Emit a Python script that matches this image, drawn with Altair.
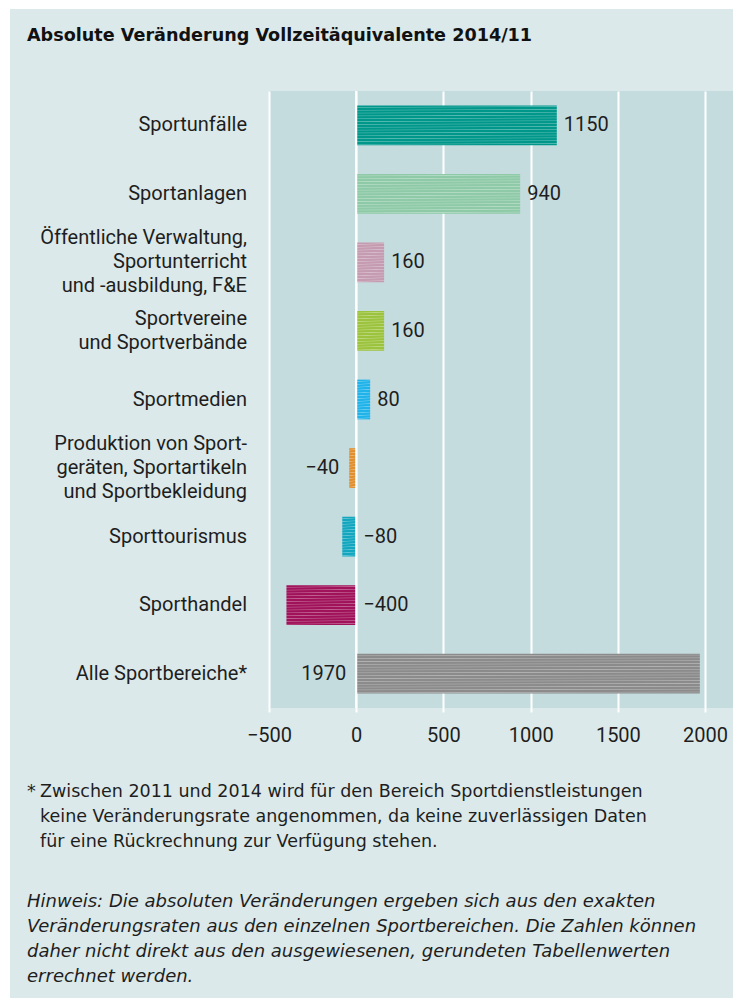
import altair as alt
import pandas as pd

# ---------------- data ----------------
title_text = "Absolute Veränderung Vollzeitäquivalente 2014/11"
categories = [
    "Sportunfälle",
    "Sportanlagen",
    "Öffentliche Verwaltung,|Sportunterricht|und -ausbildung, F&E",
    "Sportvereine|und Sportverbände",
    "Sportmedien",
    "Produktion von Sport-|geräten, Sportartikeln|und Sportbekleidung",
    "Sporttourismus",
    "Sporthandel",
    "Alle Sportbereiche*",
]
values = [1150, 940, 160, 160, 80, -40, -80, -400, 1970]
value_labels = ["1150", "940", "160", "160", "80", "−40", "−80", "−400", "1970"]
bar_colors = ["#00978b", "#8ecaa7", "#c49bb0", "#9cc33d", "#1fb3e9",
              "#e08e2e", "#13a6bf", "#a0135b", "#8b8b8b"]
label_anchor = ["end", "end", "end", "end", "end", "end", "zero", "zero", "zero"]
label_side = ["right", "right", "right", "right", "right", "left", "right", "right", "left"]
x_ticks = [-500, 0, 500, 1000, 1500, 2000]
footnote_lines = [
    "Zwischen 2011 und 2014 wird für den Bereich Sportdienstleistungen",
    "keine Veränderungsrate angenommen, da keine zuverlässigen Daten",
    "für eine Rückrechnung zur Verfügung stehen.",
]
note_lines = [
    "Hinweis: Die absoluten Veränderungen ergeben sich aus den exakten",
    "Veränderungsraten aus den einzelnen Sportbereichen. Die Zahlen können",
    "daher nicht direkt aus den ausgewiesenen, gerundeten Tabellenwerten",
    "errechnet werden.",
]

# ---------------- styling ----------------
FONT = "Roboto"
FONT2 = "DejaVu Sans"
TXT = "#1e1e1e"
OUTER_BG = "#dce9ea"
PLOT_BG = "#c5dcdf"
W, H = 464, 617
PAD_L, PAD_T = 269, 91
CAT_LH = 24
P_INNER, P_OUTER = 0.42, 0.21
HALF_BAND = H / (len(categories) - P_INNER + 2 * P_OUTER) * (1 - P_INNER) / 2

df = pd.DataFrame({
    "idx": list(range(len(categories))),
    "cat": categories,
    "value": values,
    "label": value_labels,
    "anchor": label_anchor,
    "side": label_side,
})


def mix(hex_color, t):
    h = hex_color.lstrip("#")
    r, g, b = (int(h[i:i + 2], 16) for i in (0, 2, 4))
    r, g, b = (round(c + (255 - c) * t) for c in (r, g, b))
    return f"#{r:02x}{g:02x}{b:02x}"


def stripes(color, n=14):
    light = mix(color, 0.33)
    stops = []
    for k in range(n):
        stops += [
            alt.GradientStop(color=color, offset=k / n),
            alt.GradientStop(color=color, offset=(k + 0.45) / n),
            alt.GradientStop(color=light, offset=(k + 0.7) / n),
            alt.GradientStop(color=color, offset=(k + 0.95) / n),
        ]
    stops.append(alt.GradientStop(color=color, offset=1))
    return alt.Gradient(gradient="linear", stops=stops, x1=0, y1=0, x2=0.02, y2=1)


x_enc = alt.X(
    "value:Q",
    scale=alt.Scale(domain=[-500, 2160], nice=False, zero=False),
    axis=alt.Axis(
        values=x_ticks, format="d", title=None, grid=True, gridColor="white",
        gridWidth=2, gridOpacity=1, domain=False, tickColor="white", tickWidth=2,
        tickSize=4, labelFont=FONT, labelFontSize=20, labelColor=TXT,
        labelPadding=13, labelFlush=False,
    ),
)
y_enc = alt.Y(
    "cat:N",
    sort=categories,
    scale=alt.Scale(domain=categories, paddingInner=P_INNER, paddingOuter=P_OUTER),
    axis=None,
)

base = alt.Chart(df)

# outer white margins (decoration)
deco = pd.DataFrame({"d": [0]})
white_top = alt.Chart(deco).mark_rect(color="white").encode(
    x=alt.value(-PAD_L), x2=alt.value(W + 8), y=alt.value(-PAD_T), y2=alt.value(-82))
white_left = alt.Chart(deco).mark_rect(color="white").encode(
    x=alt.value(-PAD_L), x2=alt.value(-259), y=alt.value(-PAD_T), y2=alt.value(907))
white_right = alt.Chart(deco).mark_rect(color="white").encode(
    x=alt.value(W), x2=alt.value(W + 8), y=alt.value(-PAD_T), y2=alt.value(907))

bars = [
    base.transform_filter(alt.datum.idx == i)
    .mark_bar(color=stripes(c))
    .encode(x=x_enc, y=y_enc)
    for i, c in enumerate(bar_colors)
]

zero_rule = alt.Chart(pd.DataFrame({"z": [0]})).mark_rule(
    color="white", strokeWidth=2).encode(x="z:Q")

# category labels (multi-line, vertically centred on the band)
cat_labels = base.transform_calculate(
    lines="split(datum.cat, '|')",
    off=f"{HALF_BAND} - (length(split(datum.cat, '|')) - 1) * {CAT_LH} / 2",
).mark_text(
    align="right", baseline="middle", font=FONT, fontSize=20, color=TXT,
    lineHeight=CAT_LH,
).encode(
    x=alt.value(-22), y=y_enc,
    yOffset=alt.YOffset("off:Q", scale=None),
    text="lines:N",
)

lab_base = base.transform_calculate(
    pos="datum.anchor == 'zero' ? 0 : datum.value")
labels_right = lab_base.transform_filter(alt.datum.side == "right").mark_text(
    align="left", baseline="middle", dx=7, font=FONT, fontSize=20, color=TXT
).encode(x="pos:Q", y=y_enc, text="label:N")
labels_left = lab_base.transform_filter(alt.datum.side == "left").mark_text(
    align="right", baseline="middle", dx=-10, font=FONT, fontSize=20, color=TXT
).encode(x="pos:Q", y=y_enc, text="label:N")

title = alt.Chart(deco).mark_text(
    align="left", baseline="alphabetic", font=FONT2, fontSize=17.6,
    fontWeight="bold", color="#111"
).encode(x=alt.value(27 - PAD_L), y=alt.value(41 - PAD_T), text=alt.value(title_text))

star = alt.Chart(deco).mark_text(
    align="left", baseline="alphabetic", font=FONT2, fontSize=17.5, color=TXT
).encode(x=alt.value(27 - PAD_L), y=alt.value(797 - PAD_T), text=alt.value("*"))
foot = alt.Chart(deco).mark_text(
    align="left", baseline="alphabetic", font=FONT2, fontSize=17.5, color=TXT,
    lineHeight=25
).encode(x=alt.value(40 - PAD_L), y=alt.value(797 - PAD_T), text=alt.value(footnote_lines))
note = alt.Chart(deco).mark_text(
    align="left", baseline="alphabetic", font=FONT2, fontSize=18, color=TXT,
    fontStyle="italic", lineHeight=25
).encode(x=alt.value(27 - PAD_L), y=alt.value(907 - PAD_T), text=alt.value(note_lines))

chart = alt.layer(
    white_top, white_left, white_right, *bars, zero_rule, cat_labels,
    labels_right, labels_left, title, star, foot, note,
).properties(
    width=W, height=H,
    autosize=alt.AutoSizeParams(type="none"),
    padding={"left": PAD_L, "top": PAD_T, "right": 741 - PAD_L - W, "bottom": 998 - PAD_T - H},
    background=OUTER_BG,
).configure_view(fill=PLOT_BG, stroke=None)

chart.save("out.html", embed_options={"renderer": "svg", "actions": False})
